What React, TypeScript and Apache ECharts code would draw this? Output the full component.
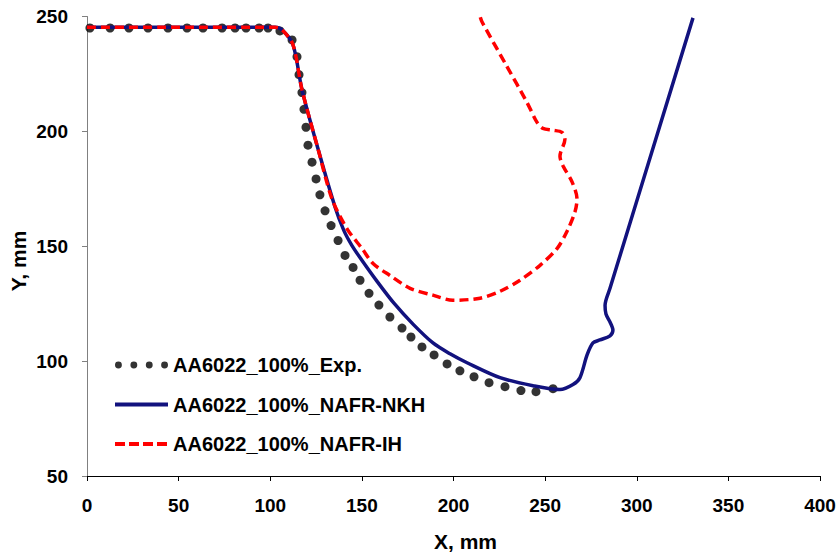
import React, { useEffect, useRef } from "react";
import * as echarts from "echarts";

const expX = [1.6, 12.6, 22.9, 33.3, 44.2, 54.6, 63.3, 73.7, 80.8, 86.8, 93.9, 98.8, 105.3, 111.9, 114.6, 115.7, 117.3, 118.4, 119.5, 120.6, 122.8, 125.0, 127.1, 129.9, 133.2, 137.0, 140.8, 145.2, 149.0, 153.9, 159.3, 165.3, 171.9, 176.8, 182.8, 189.4, 196.5, 203.5, 211.2, 219.4, 228.1, 236.8, 245.0, 254.3];
const expY = [245, 245, 245, 245, 245, 245, 245, 245, 245, 245, 245, 245, 243.7, 239.8, 232.5, 224.7, 216.9, 209.6, 201.8, 194.0, 186.6, 179.3, 172.4, 165.4, 159.0, 152.5, 146.0, 140.8, 135.2, 129.5, 124.4, 119.2, 114.4, 110.5, 106.2, 102.7, 98.8, 95.8, 93.2, 90.6, 88.9, 87.2, 86.7, 88.0];

const nkhX = [0, 50, 102.6, 106.4, 112.4, 117.3, 126.1, 135.3, 140.2, 144.6, 150.1, 158.3, 167.5, 177.9, 188.8, 198.1, 207.4, 225.4, 243.4, 258.1, 265.2, 269.0, 272.9, 276.1, 279.9, 285.4, 287.0, 285.4, 283.2, 282.7, 285.4, 330.7];
const nkhY = [245.3, 245.3, 245.3, 244.2, 237.7, 218.2, 192.3, 167.2, 156.8, 150.3, 143.8, 134.7, 125.2, 116.1, 107.9, 103.2, 99.3, 92.8, 89.3, 87.6, 89.8, 92.8, 102.7, 107.9, 109.2, 111.0, 113.5, 117.0, 120.5, 124.3, 131.7, 249.4];

const ihX = [0, 50, 102.6, 106.4, 112.4, 117.3, 126.1, 133.7, 141.9, 150.1, 156.1, 165.3, 176.3, 188.8, 199.7, 214.5, 225.4, 236.3, 247.2, 256.5, 261.9, 266.3, 267.4, 264.7, 259.8, 258.1, 260.8, 259.2, 254.3, 248.8, 245.6, 240.1, 229.2, 215.6, 214.5];
const ihY = [245.3, 245.3, 245.3, 244.2, 237.7, 218.2, 192.3, 170.6, 157.6, 149.0, 142.5, 137.3, 131.7, 128.7, 126.5, 127.4, 130.4, 135.2, 141.7, 149.0, 156.4, 165.0, 170.6, 178.0, 184.9, 189.2, 196.6, 199.6, 200.5, 201.3, 203.9, 212.6, 228.2, 247.6, 250];

const seriesNames = ["AA6022_100%_Exp.", "AA6022_100%_NAFR-NKH", "AA6022_100%_NAFR-IH"];

const zip = (xs: number[], ys: number[]) => xs.map((x, i) => [x, ys[i]]);

const FONT = "'Liberation Sans', Arial, sans-serif";

const dotsIcon =
  "path://M0,3.5a3.5,3.5 0 1,0 7,0a3.5,3.5 0 1,0 -7,0z" +
  "M15.7,3.5a3.5,3.5 0 1,0 7,0a3.5,3.5 0 1,0 -7,0z" +
  "M31.4,3.5a3.5,3.5 0 1,0 7,0a3.5,3.5 0 1,0 -7,0z" +
  "M47,3.5a3.5,3.5 0 1,0 7,0a3.5,3.5 0 1,0 -7,0z";

export default function App() {
  const ref = useRef<HTMLDivElement>(null);
  useEffect(() => {
    if (!ref.current) return;
    const chart = echarts.init(ref.current, null, { renderer: "svg" });
    chart.setOption({
      animation: false,
      backgroundColor: "#ffffff",
      grid: { left: 87, right: 19, top: 16.5, bottom: 78.7, containLabel: false },
      legend: {
        orient: "vertical",
        left: 108,
        top: 350,
        itemWidth: 53,
        itemHeight: 7,
        itemGap: 19.5,
        textStyle: { fontFamily: FONT, fontWeight: "bold", fontSize: 20, color: "#000" },
        data: [
          { name: seriesNames[0], icon: dotsIcon },
          { name: seriesNames[1], itemStyle: { opacity: 0 }, lineStyle: { width: 4 } },
          { name: seriesNames[2], itemStyle: { opacity: 0 }, lineStyle: { width: 4, type: [10, 4] } },
        ],
      },
      graphic: [
        {
          type: "text",
          x: 18,
          y: 261,
          rotation: Math.PI / 2,
          style: {
            text: "Y, mm",
            align: "center",
            verticalAlign: "middle",
            fontFamily: FONT,
            fontWeight: "bold",
            fontSize: 21,
            fill: "#000",
          },
        },
      ],
      xAxis: {
        type: "value",
        min: 0,
        max: 400,
        interval: 50,
        name: "X, mm",
        nameLocation: "middle",
        nameGap: 55,
        nameTextStyle: { fontFamily: FONT, fontWeight: "bold", fontSize: 21, color: "#000", padding: [0, 0, 0, 24] },
        axisLine: { show: true, lineStyle: { color: "#000", width: 1 } },
        axisTick: { show: true, length: 5, lineStyle: { color: "#000" } },
        axisLabel: { margin: 20, fontFamily: FONT, fontWeight: "bold", fontSize: 19, color: "#000" },
        splitLine: { show: false },
      },
      yAxis: {
        type: "value",
        min: 50,
        max: 250,
        interval: 50,
        axisLine: { show: true, lineStyle: { color: "#808080", width: 1 } },
        axisTick: { show: true, length: 5, lineStyle: { color: "#808080" } },
        axisLabel: { margin: 19, fontFamily: FONT, fontWeight: "bold", fontSize: 19, color: "#000" },
        splitLine: { show: false },
      },
      series: [
        {
          name: seriesNames[0],
          type: "scatter",
          data: zip(expX, expY),
          symbol: "circle",
          symbolSize: 9,
          itemStyle: { color: "#000" },
          z: 1,
        },
        {
          name: seriesNames[1],
          type: "line",
          data: zip(nkhX, nkhY),
          showSymbol: false,
          symbol: "none",
          smooth: 0.3,
          lineStyle: { color: "#12127e", width: 3.5 },
          itemStyle: { color: "#12127e" },
          z: 2,
        },
        {
          name: seriesNames[2],
          type: "line",
          data: zip(ihX, ihY),
          showSymbol: false,
          symbol: "none",
          smooth: 0.3,
          lineStyle: { color: "#ff0000", width: 3.5, type: [9, 5] },
          itemStyle: { color: "#ff0000" },
          z: 3,
        },
      ],
    });
    return () => chart.dispose();
  }, []);
  return <div ref={ref} style={{ position: "absolute", left: 0, top: 0, width: 839, height: 557 }} />;
}
